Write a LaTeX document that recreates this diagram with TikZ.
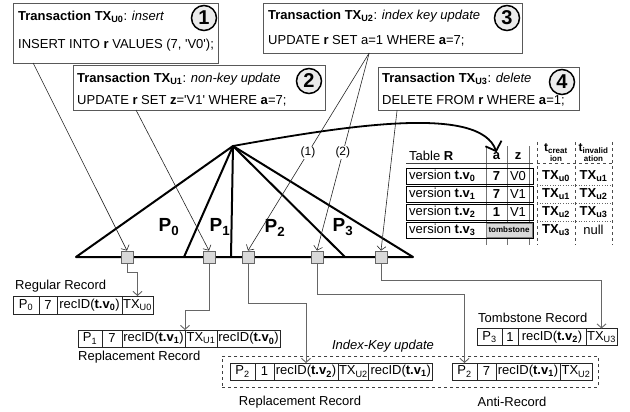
\documentclass[tikz,border=0pt]{standalone}
\usepackage{fontspec}
\setmainfont{Liberation Sans}
\usetikzlibrary{arrows.meta,calc}
\newcommand\fsz[1]{\fontsize{#1}{#1}\selectfont}
\newcommand\sq{\textquotesingle}
\begin{document}
\begin{tikzpicture}[x=1pt,y=-1pt,font=\fsz{13},
  txbox/.style={draw=black!65,line width=0.9pt,inner sep=0,outer sep=0,anchor=north west},
  txt/.style={anchor=west,inner sep=0},
  numc/.style={circle,draw=black,line width=1.5pt,fill=black!8,minimum size=25pt,inner sep=0,font=\bfseries\fsz{20}},
  leaf/.style={draw=black!60,fill=black!15,minimum size=12pt,inner sep=0,line width=0.8pt},
  tree/.style={line width=2pt,line join=round},
  conn/.style={draw=black!85,line width=0.6pt,-{Straight Barb[length=4pt,width=9pt]}},
  rconn/.style={draw=black!60,line width=0.9pt,-{Straight Barb[length=4pt,width=9pt]}},
  cell/.style={draw=black!85,line width=0.7pt,inner xsep=1pt,inner ysep=0,outer sep=0,anchor=west},
  rowbox/.style={draw=black,line width=0.9pt,minimum width=127pt,minimum height=16pt,inner sep=0,outer sep=0,anchor=north west},
  pl/.style={font=\bfseries\fsz{19},inner sep=0},
  tb/.style={font=\bfseries\fsz{13},inner sep=0}
]
\useasboundingbox (0,0) rectangle (630,412);

% transaction boxes
\node[txbox,minimum width=205pt,minimum height=60pt] (tx1) at (13,3) {};
\node[txt] (tx1a) at (18,17) {\textbf{Transaction TX\textsubscript{U0}}: \textit{insert}};
\node[txt] (tx1b) at (18,45) {INSERT INTO \textbf{r} VALUES (7, \sq V0\sq);};
\node[numc] (c1) at (204,18) {1};

\node[txbox,minimum width=252pt,minimum height=45pt] (tx2) at (73,65) {};
\node[txt] (tx2a) at (77,79) {\textbf{Transaction TX\textsubscript{U1}}: \textit{non-key update}};
\node[txt] (tx2b) at (77,101) {UPDATE \textbf{r} SET \textbf{z}=\sq V1\sq{} WHERE \textbf{a}=7;};
\node[numc] (c2) at (309,81) {2};

\node[txbox,minimum width=259pt,minimum height=50pt] (tx3) at (263,3) {};
\node[txt] (tx3a) at (268,16) {\textbf{Transaction TX\textsubscript{U2}}: \textit{index key update}};
\node[txt] (tx3b) at (268,41) {UPDATE \textbf{r} SET a=1 WHERE \textbf{a}=7;};
\node[numc] (c3) at (507,18) {3};

\node[txbox,minimum width=201pt,minimum height=43pt] (tx4) at (378,67) {};
\node[txt] (tx4a) at (382,79) {\textbf{Transaction TX\textsubscript{U3}}: \textit{delete}};
\node[txt] (tx4b) at (382,101) {DELETE FROM \textbf{r} WHERE \textbf{a}=1;};
\node[numc] (c4) at (562,82) {4};

% tree
\coordinate (apex) at (233,146);
\coordinate (bL) at (76,257);
\coordinate (b1) at (184,257);
\coordinate (b2) at (231,257);
\coordinate (b3) at (345,257);
\coordinate (bR) at (413,257);
\draw[tree] (bL) -- (apex) -- (bR) -- cycle;
\draw[tree] (apex) -- (b1);
\draw[tree] (apex) -- (b2);
\draw[tree] (apex) -- (b3);

\node[pl] (p0) at (169,227) {P\textsubscript{0}};
\node[pl] (p1) at (220,227) {P\textsubscript{1}};
\node[pl] (p2) at (275,228) {P\textsubscript{2}};
\node[pl] (p3) at (343,227) {P\textsubscript{3}};

\node[leaf] (s0) at (127,257) {};
\node[leaf] (s1) at (209,257) {};
\node[leaf] (s2) at (248,257) {};
\node[leaf] (s3) at (317,257) {};
\node[leaf] (s4) at (381,257) {};

% transaction connectors
\draw[conn] ($(tx1.south west)!0.098!(tx1.south east)$) -- (s0.north);
\draw[conn] ($(tx2.south west)!0.25!(tx2.south east)$) -- (s1.north);
\coordinate (t3) at ($(tx3.south west)!0.41!(tx3.south east)$);
\draw[conn] (t3) -- node[pos=0.505,fill=white,inner sep=1pt,font=\fsz{12}] (l1) {(1)} (s2.north);
\draw[conn] (t3) -- node[pos=0.505,fill=white,inner sep=1pt,font=\fsz{12}] (l2) {(2)} (s3.north);
\draw[conn] ($(tx4.south west)!0.095!(tx4.south east)$) -- (s4.north);

% table
\node[txt] (thR) at (409,156) {Table \textbf{R}};
\node[tb] (ha) at (496.5,156) {a};
\node[tb] (hz) at (518,156) {z};
\draw[black!55,line width=0.7pt] (486,146) -- (486,245);
\draw[black!55,line width=0.7pt] (507,146) -- (507,245);
\draw[black!55,line width=0.7pt] (529,146) -- (529,245);
\draw[black!75,line width=0.8pt] (406,163) -- (533,163);

\node[rowbox] (row0) at (406,168) {};
\node[rowbox] (row1) at (406,186) {};
\node[rowbox] (row2) at (406,204) {};
\node[rowbox] (row3) at (406,222) {};
\node[txt] (v0) at (409,176) {version \textbf{t.v\textsubscript{0}}};
\node[txt] (v1) at (409,194) {version \textbf{t.v\textsubscript{1}}};
\node[txt] (v2) at (409,212) {version \textbf{t.v\textsubscript{2}}};
\node[txt] (v3) at (409,230) {version \textbf{t.v\textsubscript{3}}};
\node[tb] (a0) at (496.5,176) {7};
\node[tb] (a1) at (496.5,194) {7};
\node[tb] (a2) at (496.5,212) {1};
\node[inner sep=0] (z0) at (518,176) {V0};
\node[inner sep=0] (z1) at (518,194) {V1};
\node[inner sep=0] (z2) at (518,212) {V1};
\node[draw=black!50,fill=black!15,line width=0.6pt,minimum width=46pt,minimum height=14pt,inner sep=0,font=\bfseries\fsz{8}] (tomb) at (509,230) {tombstone};

\draw[black!70,dashed,line width=0.6pt] (537,142) -- (537,245);
\draw[black!70,dashed,line width=0.6pt] (575,142) -- (575,245);
\draw[black!70,dashed,line width=0.6pt] (612,142) -- (612,245);
\draw[black!70,dashed,line width=0.6pt] (537,163) -- (612,163);
\draw[black!60,dotted,line width=0.6pt] (537,185) -- (612,185);
\draw[black!60,dotted,line width=0.6pt] (537,203) -- (612,203);
\draw[black!60,dotted,line width=0.6pt] (537,221) -- (612,221);
\node[font=\bfseries\fsz{12},inner sep=0] (hc1) at (556,149) {t\textsubscript{creat}};
\node[font=\bfseries\fsz{8},inner sep=0] (hc2) at (556,159) {ion};
\node[font=\bfseries\fsz{12},inner sep=0] (hi1) at (593.5,149) {t\textsubscript{invalid}};
\node[font=\bfseries\fsz{8},inner sep=0] (hi2) at (593.5,159) {ation};
\node[tb] (c0a) at (556,176) {TX\textsubscript{u0}};
\node[tb] (c0b) at (593.5,176) {TX\textsubscript{u1}};
\node[tb] (c1a) at (556,194) {TX\textsubscript{u1}};
\node[tb] (c1b) at (593.5,194) {TX\textsubscript{u2}};
\node[tb] (c2a) at (556,212) {TX\textsubscript{u2}};
\node[tb] (c2b) at (593.5,212) {TX\textsubscript{u3}};
\node[tb] (c3a) at (556,230) {TX\textsubscript{u3}};
\node[inner sep=0] (c3b) at (593.5,230) {null};

% curved arrow
\draw[line width=1.8pt,-{Straight Barb[length=8pt,width=17pt]}] (apex) .. controls (350,125) and (480,105) .. (ha.north);

% records
\node[txt] (lreg) at (15,286) {Regular Record};
\node[cell,minimum width=26pt,minimum height=18pt] (r1a) at (13,305) {P\textsubscript{0}};
\node[cell,minimum width=18pt,minimum height=18pt] (r1b) at (r1a.east) {7};
\node[cell,minimum width=65pt,minimum height=18pt] (r1c) at (r1b.east) {recID(\textbf{t.v\textsubscript{0}})};
\node[cell,minimum width=31pt,minimum height=18pt] (r1d) at (r1c.east) {TX\textsubscript{U0}};

\node[cell,minimum width=24pt,minimum height=17pt] (r2a) at (78,338.5) {P\textsubscript{1}};
\node[cell,minimum width=20pt,minimum height=17pt] (r2b) at (r2a.east) {7};
\node[cell,minimum width=63pt,minimum height=17pt] (r2c) at (r2b.east) {recID(\textbf{t.v\textsubscript{1}})};
\node[cell,minimum width=32pt,minimum height=17pt] (r2d) at (r2c.east) {TX\textsubscript{U1}};
\node[cell,minimum width=63pt,minimum height=17pt] (r2e) at (r2d.east) {recID(\textbf{t.v\textsubscript{0}})};
\node[txt] (lrep1) at (78,357) {Replacement Record};

\node[draw=black!75,dashed,line width=0.8pt,minimum width=376pt,minimum height=31pt,inner sep=0,anchor=north west] (ikbox) at (222,356) {};
\node[font=\itshape\fsz{13}] (iklab) at (383,346) {Index-Key update};

\node[cell,minimum width=25pt,minimum height=17pt] (r3a) at (230,371.5) {P\textsubscript{2}};
\node[cell,minimum width=19pt,minimum height=17pt] (r3b) at (r3a.east) {1};
\node[cell,minimum width=64pt,minimum height=17pt] (r3c) at (r3b.east) {recID(\textbf{t.v\textsubscript{2}})};
\node[cell,minimum width=30pt,minimum height=17pt] (r3d) at (r3c.east) {TX\textsubscript{U2}};
\node[cell,minimum width=64pt,minimum height=17pt] (r3e) at (r3d.east) {recID(\textbf{t.v\textsubscript{1}})};
\node (lrep2) at (300,402) {Replacement Record};

\node[cell,minimum width=25pt,minimum height=17pt] (r4a) at (452,371.5) {P\textsubscript{2}};
\node[cell,minimum width=19pt,minimum height=17pt] (r4b) at (r4a.east) {7};
\node[cell,minimum width=64pt,minimum height=17pt] (r4c) at (r4b.east) {recID(\textbf{t.v\textsubscript{1}})};
\node[cell,minimum width=32pt,minimum height=17pt] (r4d) at (r4c.east) {TX\textsubscript{U2}};
\node (lanti) at (512,402) {Anti-Record};

\node[txt] (ltomb) at (478,318) {Tombstone Record};
\node[cell,minimum width=25pt,minimum height=17pt] (r5a) at (477,337) {P\textsubscript{3}};
\node[cell,minimum width=16pt,minimum height=17pt] (r5b) at (r5a.east) {1};
\node[cell,minimum width=68pt,minimum height=17pt] (r5c) at (r5b.east) {recID(\textbf{t.v\textsubscript{2}})};
\node[cell,minimum width=31pt,minimum height=17pt] (r5d) at (r5c.east) {TX\textsubscript{U3}};

% record connectors
\draw[rconn] (s0.south) -- ++(0,9) -| (r1d.north);
\draw[rconn] (s1.south) -- ++(0,47) -| (r2c.north east);
\draw[rconn] (s2.south) -- ++(0,40) -| (r3c.north);
\draw[rconn] (s3.south) -- ++(0,31) -| (r4a.north);
\draw[rconn] (s4.south) -- ++(0,17) -| (r5d.north);
\end{tikzpicture}
\end{document}
